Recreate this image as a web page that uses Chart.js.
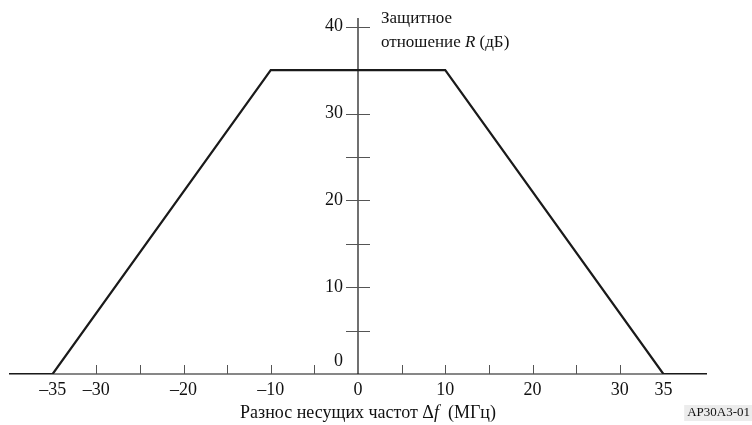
<!DOCTYPE html>
<html>
<head>
<meta charset="utf-8">
<script src="https://cdn.jsdelivr.net/npm/chart.js@4"></script>
<style>
  html, body { margin: 0; padding: 0; background: #fff; }
  #wrap { position: relative; width: 752px; height: 425px; }
</style>
</head>
<body>
<div id="wrap"><canvas id="c" width="752" height="425"></canvas></div>
<script>
// Protection ratio mask vs. carrier frequency separation
const freqOffsets     = [-40, -35, -10, 10, 35, 40];   // MHz
const protectionRatio = [0, 0, 35, 35, 0, 0];          // dB

const xTickMarks  = [-30, -25, -20, -15, -10, -5, 5, 10, 15, 20, 25, 30];
const xTickLabels = [-35, -30, -20, -10, 0, 10, 20, 30, 35];
const yTickMarks  = [5, 10, 15, 20, 25, 30, 35, 40];
const yTickLabels = [0, 10, 20, 30, 40];

const FONT = '"Liberation Serif", "Times New Roman", serif';
const FS = 18;
const TITLE_FS = 17;

function fmt(v) { return v < 0 ? '\u2013' + Math.abs(v) : String(v); }

// Draws runs of plain/italic text one after another, starting at x
function drawRuns(ctx, runs, x, y, size) {
  runs.forEach(([t, it]) => {
    ctx.font = (it ? 'italic ' : '') + size + 'px ' + FONT;
    ctx.fillText(t, x, y);
    x += ctx.measureText(t).width;
  });
}
function runsWidth(ctx, runs, size) {
  let w = 0;
  runs.forEach(([t, it]) => {
    ctx.font = (it ? 'italic ' : '') + size + 'px ' + FONT;
    w += ctx.measureText(t).width;
  });
  return w;
}

const axesPlugin = {
  id: 'crossAxes',
  beforeDatasetsDraw(chart) {
    const { ctx, scales: { x, y } } = chart;
    const x0 = x.getPixelForValue(0), y0 = y.getPixelForValue(0);
    ctx.save();
    ctx.strokeStyle = '#111';
    ctx.lineWidth = 1.2;
    // horizontal axis
    ctx.beginPath();
    ctx.moveTo(x.getPixelForValue(x.min), y0);
    ctx.lineTo(x.getPixelForValue(x.max), y0);
    ctx.stroke();
    // vertical axis
    ctx.beginPath();
    ctx.moveTo(x0, y0);
    ctx.lineTo(x0, y.getPixelForValue(y.max));
    ctx.stroke();
    // x tick marks (upwards)
    ctx.strokeStyle = '#555';
    ctx.lineWidth = 1;
    xTickMarks.forEach(v => {
      const px = Math.round(x.getPixelForValue(v)) + 0.5;
      ctx.beginPath();
      ctx.moveTo(px, y0);
      ctx.lineTo(px, y0 - 9);
      ctx.stroke();
    });
    // y tick marks (crossing the axis)
    yTickMarks.forEach(v => {
      const py = Math.round(y.getPixelForValue(v)) + 0.5;
      ctx.beginPath();
      ctx.moveTo(x0 - 12, py);
      ctx.lineTo(x0 + 12, py);
      ctx.stroke();
    });
    ctx.restore();
  },
  afterDraw(chart) {
    const { ctx, scales: { x, y } } = chart;
    const x0 = x.getPixelForValue(0), y0 = y.getPixelForValue(0);
    ctx.save();
    ctx.fillStyle = '#111';
    ctx.font = FS + 'px ' + FONT;
    ctx.textBaseline = 'middle';
    // x tick labels
    ctx.textAlign = 'center';
    xTickLabels.forEach(v => {
      ctx.fillText(fmt(v), x.getPixelForValue(v), y0 + 16);
    });
    // y tick labels
    ctx.textAlign = 'right';
    yTickLabels.forEach(v => {
      const py = v === 0 ? y0 - 13 : y.getPixelForValue(v);
      ctx.fillText(fmt(v), x0 - 15, py);
    });
    // y axis title
    ctx.textAlign = 'left';
    const tx = x0 + 23;
    const top = y.getPixelForValue(40);
    drawRuns(ctx, [['Защитное', false]], tx, top - 8, TITLE_FS);
    drawRuns(ctx, [['отношение ', false], ['R', true], [' (дБ)', false]], tx, top + 16, TITLE_FS);
    // x axis title
    const xt = [['Разнос несущих частот Δ', false], ['f', true], ['  (МГц)', false]];
    const w = runsWidth(ctx, xt, FS);
    drawRuns(ctx, xt, 368 - w / 2, 413, FS);
    // figure reference
    ctx.font = '13px ' + FONT;
    const ref = 'AP30A3-01';
    const rw = ctx.measureText(ref).width;
    ctx.fillStyle = '#ececec';
    ctx.fillRect(752 - rw - 5, 405, rw + 5, 16);
    ctx.fillStyle = '#111';
    ctx.fillText(ref, 752 - rw - 2, 413);
    ctx.restore();
  }
};

new Chart(document.getElementById('c'), {
  type: 'scatter',
  data: {
    datasets: [{
      data: freqOffsets.map((f, i) => ({ x: f, y: protectionRatio[i] })),
      showLine: true,
      borderColor: '#1a1a1a',
      borderWidth: 2.2,
      pointRadius: 0,
      tension: 0,
      fill: false
    }]
  },
  options: {
    responsive: false,
    animation: false,
    layout: { padding: { left: 9, right: 45, top: 18, bottom: 51 } },
    plugins: { legend: { display: false }, tooltip: { enabled: false } },
    scales: {
      x: { type: 'linear', min: -40, max: 40, display: false },
      y: { type: 'linear', min: 0, max: 41, display: false }
    }
  },
  plugins: [axesPlugin]
});
</script>
</body>
</html>
